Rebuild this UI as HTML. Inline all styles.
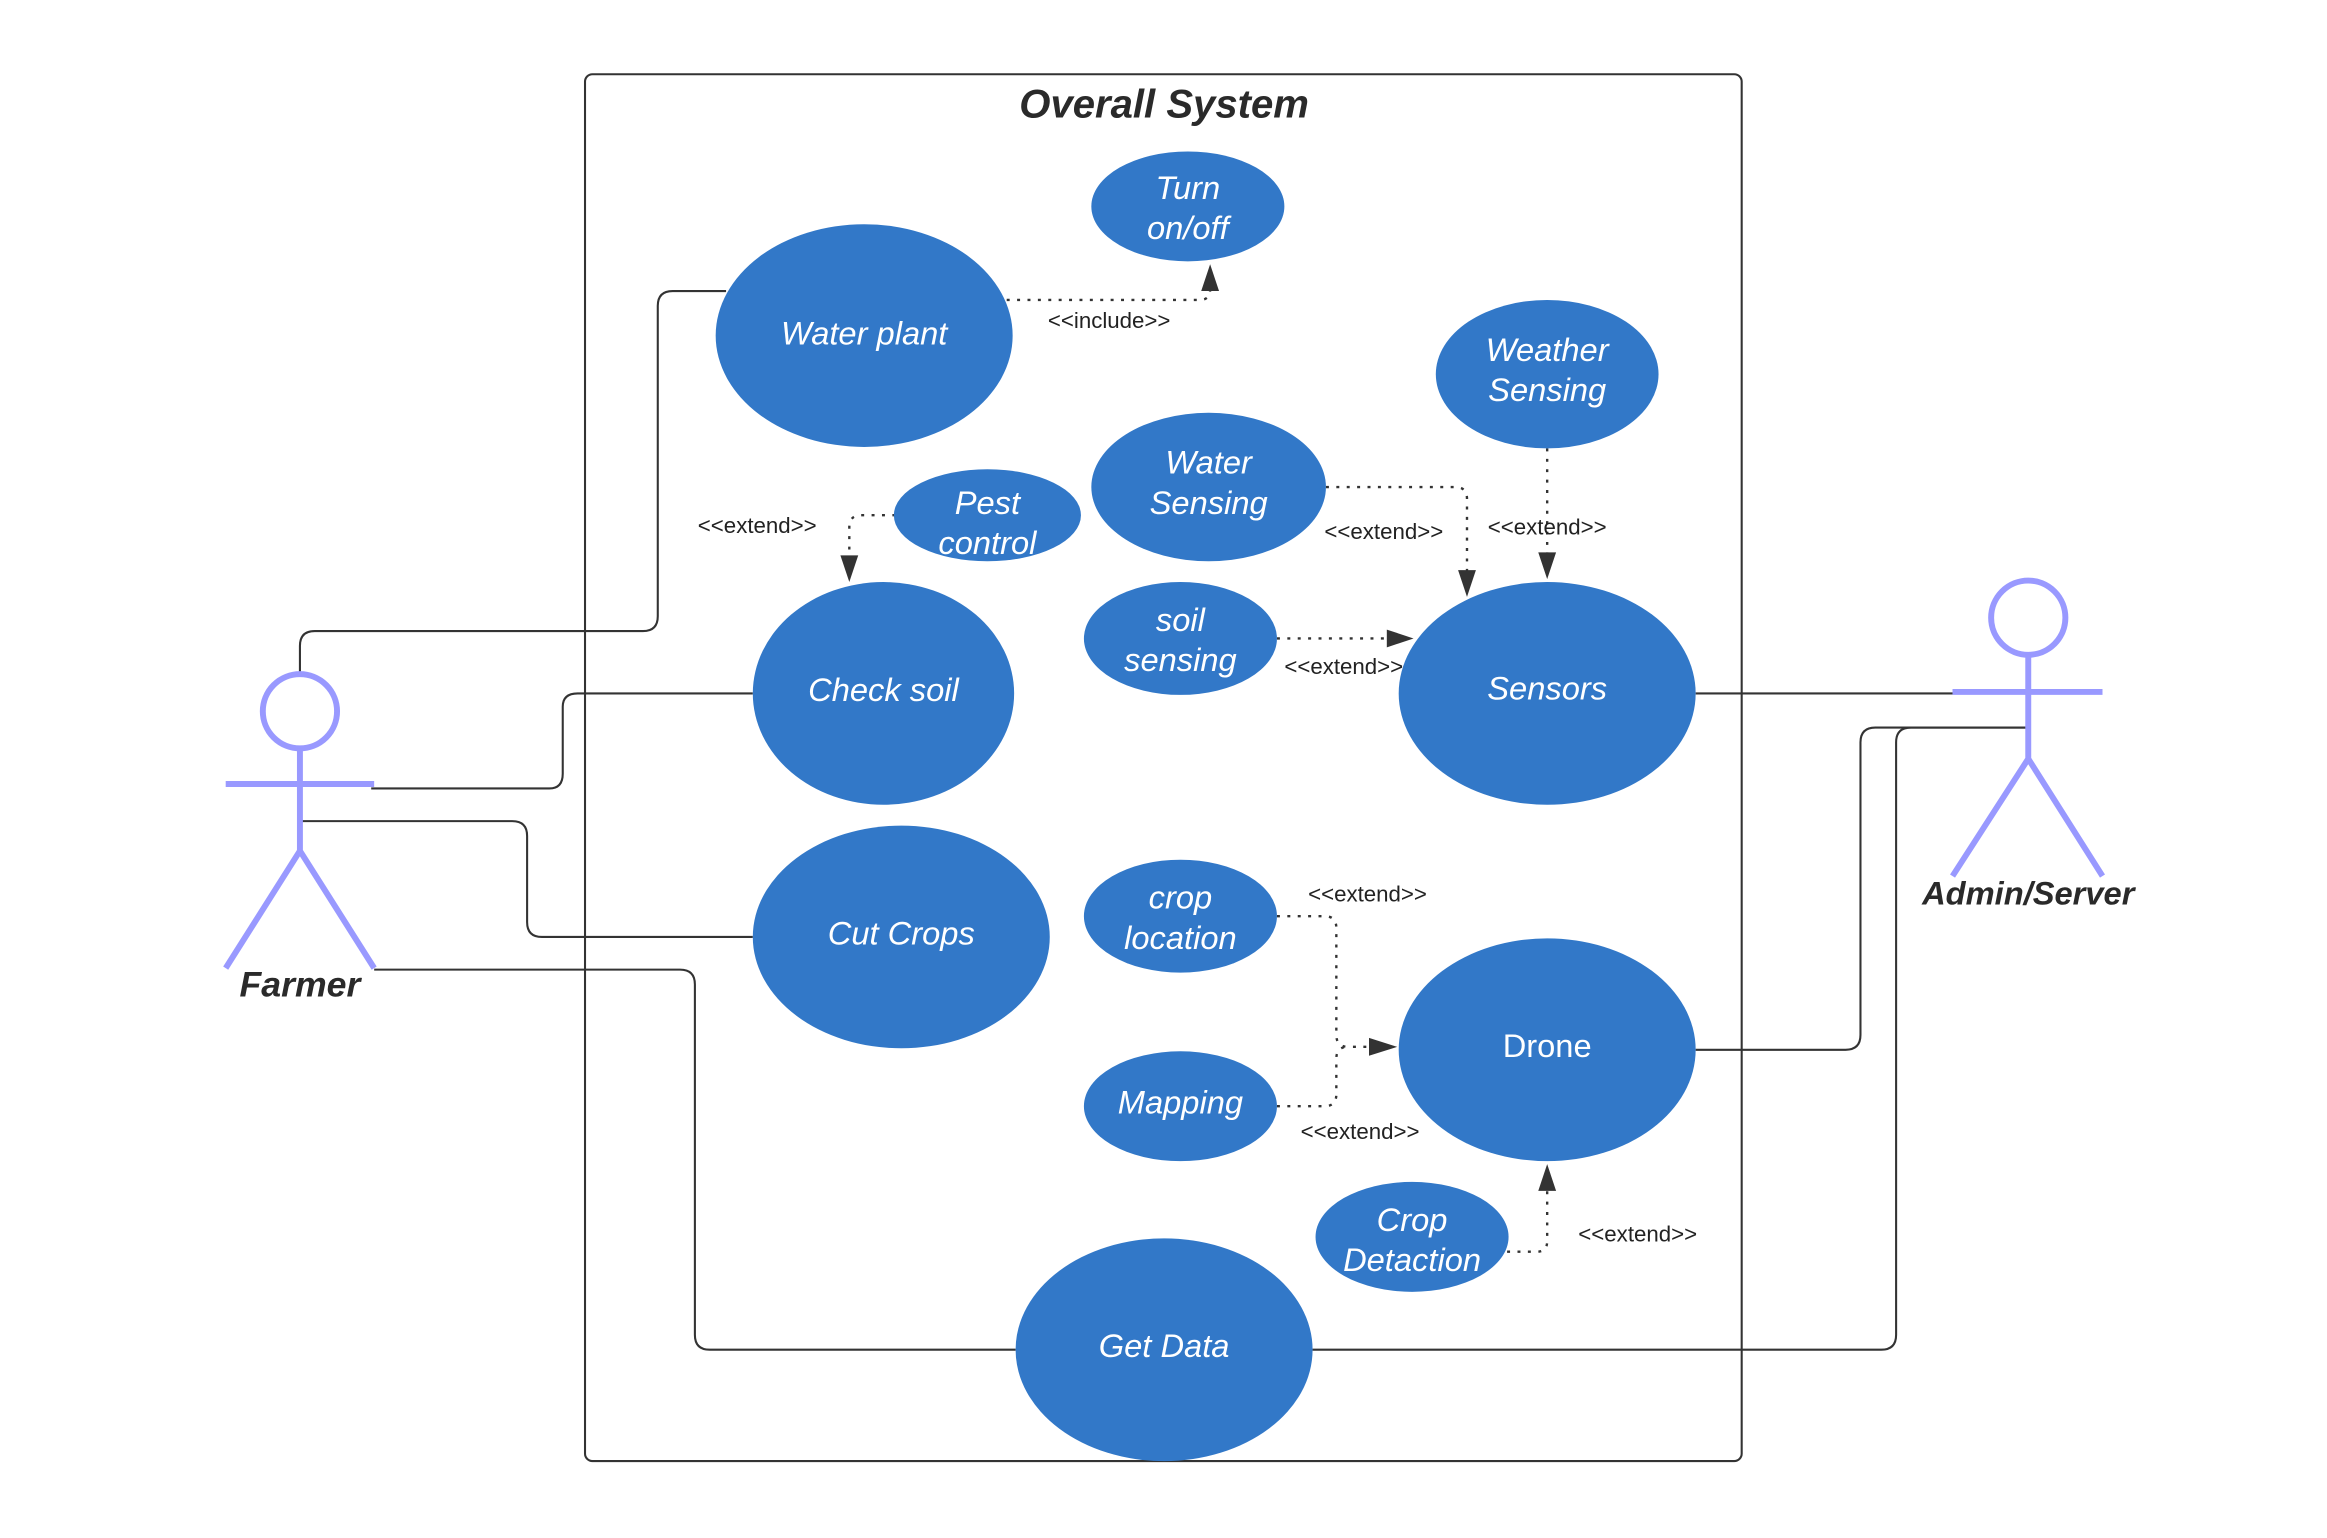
<!DOCTYPE html>
<html><head><meta charset="utf-8"><style>
html,body{margin:0;padding:0;background:#fff;}
svg{display:block;}
.u{fill:#3278C8;}
.t{fill:#fff;font-family:"Liberation Sans",sans-serif;font-style:italic;font-size:22px;text-anchor:middle;}
.l{fill:#222;font-family:"Liberation Sans",sans-serif;font-size:15px;text-anchor:middle;}
.c{fill:none;stroke:#333;stroke-width:1.4;}
.d{fill:none;stroke:#333;stroke-width:1.6;stroke-dasharray:2 5;}
.a{fill:none;stroke:#9999FF;stroke-width:4;}
.h{fill:#333;}
</style></head><body>
<svg width="2327" height="1538" viewBox="0 0 1567.2 1035.8" preserveAspectRatio="none" xmlns="http://www.w3.org/2000/svg">
<rect x="394" y="50" width="779" height="934" rx="5" class="c"/>
<text x="784" y="79" style="font-family:'Liberation Sans',sans-serif;font-weight:bold;font-style:italic;font-size:27px;fill:#2a2a2a;text-anchor:middle">Overall System</text>

<path class="c" d="M202,453 V435 Q202,425 212,425 H433 Q443,425 443,415 V206 Q443,196 453,196 H489"/>
<path class="c" d="M250,531 H370 Q379,531 379,521 V476 Q379,467 389,467 H507"/>
<path class="c" d="M202,553 H345 Q355,553 355,563 V621 Q355,631 365,631 H507"/>
<path class="c" d="M252,653 H458 Q468,653 468,663 V899 Q468,909 478,909 H684"/>
<path class="c" d="M1142,467 H1315"/>
<path class="c" d="M1142,707 H1243 Q1253,707 1253,697 V500 Q1253,490 1263,490 H1366"/>
<path class="c" d="M884,909 H1267 Q1277,909 1277,899 V500 Q1277,490 1287,490 H1366"/>

<path class="d" d="M678,202 H808 Q815,202 815,195 V192"/>
<polygon class="h" points="815,178 809,196 821,196"/>
<path class="d" d="M603,347 H580 Q572,347 572,355 V376"/>
<polygon class="h" points="572,392 566,374 578,374"/>
<path class="d" d="M893,328 H980 Q988,328 988,336 V386"/>
<polygon class="h" points="988,402 982,384 994,384"/>
<path class="d" d="M1042,302 V374"/>
<polygon class="h" points="1042,390 1036,372 1048,372"/>
<path class="d" d="M860,430 H936"/>
<polygon class="h" points="952,430 934,424 934,436"/>
<path class="d" d="M860,617 H892 Q900,617 900,625 V697 Q900,705 908,705 H924"/>
<path class="d" d="M860,745 H892 Q900,745 900,737 V713 Q900,705 908,705"/>
<polygon class="h" points="941,705 922,699 922,711"/>
<path class="d" d="M1015,843 H1035 Q1042,843 1042,836 V800"/>
<polygon class="h" points="1042,784 1036,802 1048,802"/>

<ellipse class="u" cx="800" cy="139" rx="65" ry="37"/>
<text class="t" x="800" y="134">Turn</text><text class="t" x="800" y="161">on/off</text>
<ellipse class="u" cx="582" cy="226" rx="100" ry="75"/>
<text class="t" x="582" y="232">Water plant</text>
<ellipse class="u" cx="1042" cy="252" rx="75" ry="50"/>
<text class="t" x="1042" y="243">Weather</text><text class="t" x="1042" y="270">Sensing</text>
<ellipse class="u" cx="814" cy="328" rx="79" ry="50"/>
<text class="t" x="814" y="319">Water</text><text class="t" x="814" y="346">Sensing</text>
<ellipse class="u" cx="665" cy="347" rx="63" ry="31"/>
<text class="t" x="665" y="346">Pest</text><text class="t" x="665" y="373">control</text>
<ellipse class="u" cx="595" cy="467" rx="88" ry="75"/>
<text class="t" x="595" y="472">Check soil</text>
<ellipse class="u" cx="795" cy="430" rx="65" ry="38"/>
<text class="t" x="795" y="425">soil</text><text class="t" x="795" y="452">sensing</text>
<ellipse class="u" cx="1042" cy="467" rx="100" ry="75"/>
<text class="t" x="1042" y="471">Sensors</text>
<ellipse class="u" cx="607" cy="631" rx="100" ry="75"/>
<text class="t" x="607" y="636">Cut Crops</text>
<ellipse class="u" cx="795" cy="617" rx="65" ry="38"/>
<text class="t" x="795" y="612">crop</text><text class="t" x="795" y="639">location</text>
<ellipse class="u" cx="1042" cy="707" rx="100" ry="75"/>
<text class="t" x="1042" y="712" style="font-style:normal">Drone</text>
<ellipse class="u" cx="795" cy="745" rx="65" ry="37"/>
<text class="t" x="795" y="750">Mapping</text>
<ellipse class="u" cx="951" cy="833" rx="65" ry="37"/>
<text class="t" x="951" y="829">Crop</text><text class="t" x="951" y="856">Detaction</text>
<ellipse class="u" cx="784" cy="909" rx="100" ry="75"/>
<text class="t" x="784" y="914">Get Data</text>

<text class="l" x="747" y="221">&lt;&lt;include&gt;&gt;</text>
<text class="l" x="510" y="359">&lt;&lt;extend&gt;&gt;</text>
<text class="l" x="932" y="363">&lt;&lt;extend&gt;&gt;</text>
<text class="l" x="1042" y="360">&lt;&lt;extend&gt;&gt;</text>
<text class="l" x="905" y="454">&lt;&lt;extend&gt;&gt;</text>
<text class="l" x="921" y="607">&lt;&lt;extend&gt;&gt;</text>
<text class="l" x="916" y="767">&lt;&lt;extend&gt;&gt;</text>
<text class="l" x="1103" y="836">&lt;&lt;extend&gt;&gt;</text>

<g class="a">
<circle cx="202" cy="479" r="25"/>
<path d="M202,504 V573 M152,528 H252 M202,573 L152,652 M202,573 L252,652"/>
<circle cx="1366" cy="416" r="25"/>
<path d="M1366,441 V511 M1315,466 H1416 M1366,511 L1315,590 M1366,511 L1416,590"/>
</g>
<text x="202" y="671" style="font-family:'Liberation Sans',sans-serif;font-weight:bold;font-style:italic;font-size:24px;fill:#2a2a2a;text-anchor:middle">Farmer</text>
<text x="1366" y="609" style="font-family:'Liberation Sans',sans-serif;font-weight:bold;font-style:italic;font-size:22px;fill:#2a2a2a;text-anchor:middle">Admin/Server</text>
</svg>
</body></html>
